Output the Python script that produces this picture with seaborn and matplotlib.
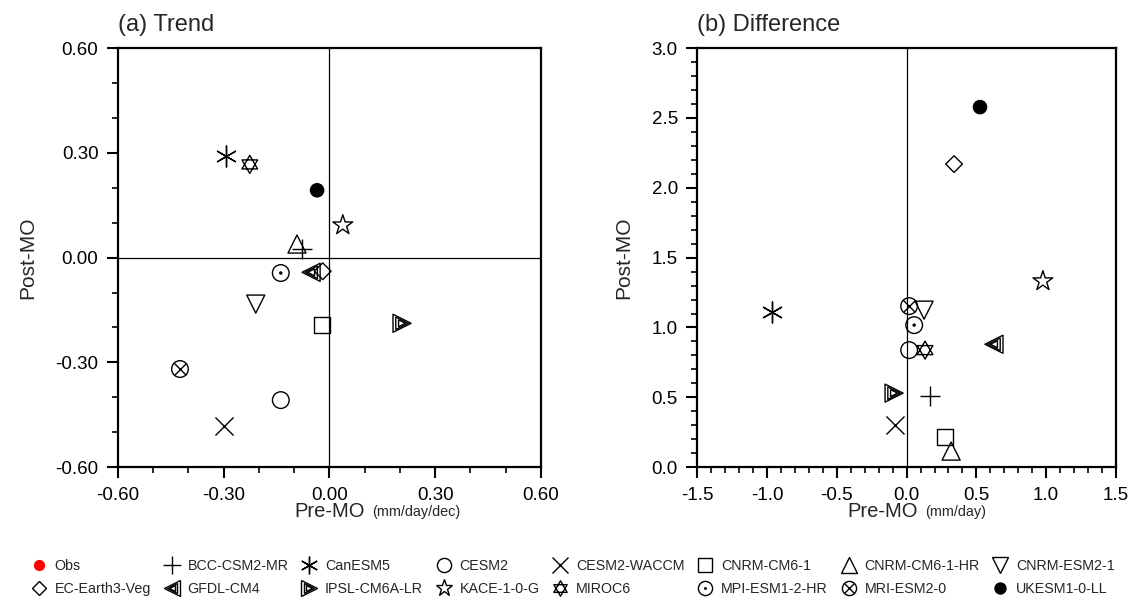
import numpy as np
import pandas as pd
import matplotlib
matplotlib.use("Agg")
import matplotlib.pyplot as plt
from matplotlib.path import Path
from matplotlib.lines import Line2D
from matplotlib.ticker import MultipleLocator, FormatStrFormatter
import seaborn as sns

# ---------------- data ----------------
models = ["Obs", "BCC-CSM2-MR", "CanESM5", "CESM2", "CESM2-WACCM", "CNRM-CM6-1",
          "CNRM-CM6-1-HR", "CNRM-ESM2-1", "EC-Earth3-Veg", "GFDL-CM4", "IPSL-CM6A-LR",
          "KACE-1-0-G", "MIROC6", "MPI-ESM1-2-HR", "MRI-ESM2-0", "UKESM1-0-LL"]
trend_pre = [-0.345, -0.078, -0.294, -0.138, -0.299, -0.021, -0.092, -0.209,
             -0.019, -0.052, 0.206, 0.038, -0.226, -0.138, -0.424, -0.035]
trend_post = [0.552, 0.024, 0.291, -0.408, -0.483, -0.193, 0.039, -0.133,
              -0.039, -0.042, -0.188, 0.093, 0.267, -0.044, -0.319, 0.193]
diff_pre = [np.nan, 0.168, -0.963, 0.018, -0.082, 0.276, 0.319, 0.125,
            0.340, 0.626, -0.090, 0.977, 0.132, 0.054, 0.018, 0.526]
diff_post = [np.nan, 0.508, 1.110, 0.838, 0.300, 0.215, 0.115, 1.124,
             2.170, 0.880, 0.530, 1.332, 0.838, 1.017, 1.153, 2.578]

df = pd.DataFrame({"model": models, "trend_pre": trend_pre, "trend_post": trend_post,
                   "diff_pre": diff_pre, "diff_post": diff_post})

# ---------------- marker styles ----------------
_t = np.deg2rad([90, 210, 330])
_v1 = np.column_stack([np.cos(_t), np.sin(_t)])
_v2 = -_v1
hexagram = Path(np.vstack([_v1, _v1[:1], _v2, _v2[:1]]),
                [Path.MOVETO, Path.LINETO, Path.LINETO, Path.CLOSEPOLY] * 2)

# layers: (marker, size(pt), kind, linewidth); kind: "open", "line", or a fill colour
styles = {
    "Obs": [("o", 9.5, "red", 0)],
    "BCC-CSM2-MR": [("+", 15, "line", 1.0)],
    "CanESM5": [((6, 2, 0), 15, "line", 1.0)],
    "CESM2": [("o", 12, "open", 1.0)],
    "CESM2-WACCM": [("x", 13, "line", 1.0)],
    "CNRM-CM6-1": [("s", 12, "open", 1.0)],
    "CNRM-CM6-1-HR": [("^", 13, "open", 1.0)],
    "CNRM-ESM2-1": [("v", 13, "open", 1.0)],
    "EC-Earth3-Veg": [("D", 8.5, "open", 1.0)],
    "GFDL-CM4": [("<", 13, "open", 1.0), ("<", 9, "open", 1.0), ("<", 5, "open", 1.0)],
    "IPSL-CM6A-LR": [(">", 13, "open", 1.0), (">", 9, "open", 1.0), (">", 5, "open", 1.0)],
    "KACE-1-0-G": [("*", 15, "open", 1.0)],
    "MIROC6": [(hexagram, 13, "open", 1.0)],
    "MPI-ESM1-2-HR": [("o", 12, "open", 1.0), ("o", 2.5, "black", 0)],
    "MRI-ESM2-0": [("o", 12, "open", 1.0), ("x", 8.5, "line", 1.0)],
    "UKESM1-0-LL": [("o", 10.5, "black", 0)],
}

sns.set_style("ticks")
plt.rcParams["font.family"] = ["Liberation Sans", "DejaVu Sans"]

fig = plt.figure(figsize=(11.34, 6.02), dpi=100)
axa = fig.add_axes([0.104, 0.224, 0.373, 0.696])
axb = fig.add_axes([0.615, 0.224, 0.369, 0.696])


def draw(ax, xcol, ycol):
    for m in models:
        sub = df[df["model"] == m].dropna()
        if sub.empty:
            continue
        for mk, ms, kind, lw in styles[m]:
            if kind == "open":
                sns.scatterplot(data=sub, x=xcol, y=ycol, ax=ax, marker=mk, s=ms ** 2,
                                facecolors="none", edgecolors="black", linewidths=lw,
                                zorder=3, legend=False)
            elif kind == "line":
                sns.scatterplot(data=sub, x=xcol, y=ycol, ax=ax, marker=mk, s=ms ** 2,
                                color="black", linewidths=lw, zorder=3, legend=False)
            else:
                sns.scatterplot(data=sub, x=xcol, y=ycol, ax=ax, marker=mk, s=ms ** 2,
                                color=kind, edgecolor="none", linewidth=0,
                                zorder=3, legend=False)


draw(axa, "trend_pre", "trend_post")
draw(axb, "diff_pre", "diff_post")

axa.axhline(0, color="black", lw=0.9, zorder=1)
axa.axvline(0, color="black", lw=0.9, zorder=1)
axb.axvline(0, color="black", lw=0.9, zorder=1)

axa.set_xlim(-0.6, 0.6)
axa.set_ylim(-0.6, 0.6)
axa.xaxis.set_major_locator(MultipleLocator(0.3))
axa.yaxis.set_major_locator(MultipleLocator(0.3))
axa.xaxis.set_minor_locator(MultipleLocator(0.1))
axa.yaxis.set_minor_locator(MultipleLocator(0.1))
axa.xaxis.set_major_formatter(FormatStrFormatter("%.2f"))
axa.yaxis.set_major_formatter(FormatStrFormatter("%.2f"))

axb.set_xlim(-1.5, 1.5)
axb.set_ylim(0, 3.0)
axb.xaxis.set_major_locator(MultipleLocator(0.5))
axb.yaxis.set_major_locator(MultipleLocator(0.5))
axb.xaxis.set_minor_locator(MultipleLocator(0.1))
axb.yaxis.set_minor_locator(MultipleLocator(0.1))
axb.xaxis.set_major_formatter(FormatStrFormatter("%.1f"))
axb.yaxis.set_major_formatter(FormatStrFormatter("%.1f"))

for ax in (axa, axb):
    for sp in ax.spines.values():
        sp.set_visible(True)
        sp.set_linewidth(1.6)
        sp.set_color("black")
    ax.tick_params(which="major", direction="out", length=8, width=1.5,
                   labelsize=13.5, pad=6, top=False, right=False, colors="black")
    ax.tick_params(which="minor", direction="out", length=4, width=1.2,
                   top=False, right=False, colors="black")
    ax.set_xlabel("")
    ax.set_ylabel("Post-MO", fontsize=15, labelpad=13)

axa.set_title("(a) Trend", loc="left", fontsize=17, pad=12)
axb.set_title("(b) Difference", loc="left", fontsize=17, pad=12)

axa.text(0.584, -0.105, "Pre-MO", transform=axa.transAxes, ha="right", va="center", fontsize=14.5)
axa.text(0.600, -0.108, "(mm/day/dec)", transform=axa.transAxes, ha="left", va="center", fontsize=10.4)
axb.text(0.527, -0.105, "Pre-MO", transform=axb.transAxes, ha="right", va="center", fontsize=14.5)
axb.text(0.543, -0.108, "(mm/day)", transform=axb.transAxes, ha="left", va="center", fontsize=10.4)


def proxy(m):
    hs = []
    for mk, ms, kind, lw in styles[m]:
        s = ms * 0.85
        if kind == "open":
            hs.append(Line2D([], [], ls="none", marker=mk, markersize=s,
                             markerfacecolor="none", markeredgecolor="black", markeredgewidth=lw))
        elif kind == "line":
            hs.append(Line2D([], [], ls="none", marker=mk, markersize=s,
                             color="black", markeredgewidth=lw))
        else:
            hs.append(Line2D([], [], ls="none", marker=mk, markersize=s,
                             markerfacecolor=kind, markeredgecolor="none"))
    return tuple(hs) if len(hs) > 1 else hs[0]


handles = [proxy(m) for m in models]
order = []
for c in range(8):
    order += [c, c + 8]
fig.legend([handles[i] for i in order], [models[i] for i in order],
           loc="center", bbox_to_anchor=(0.505, 0.041), ncol=8, frameon=False,
           fontsize=10.3, handlelength=1.2, handletextpad=0.5, columnspacing=0.85,
           labelspacing=0.6, borderaxespad=0)

fig.savefig("out.png", dpi=100)
